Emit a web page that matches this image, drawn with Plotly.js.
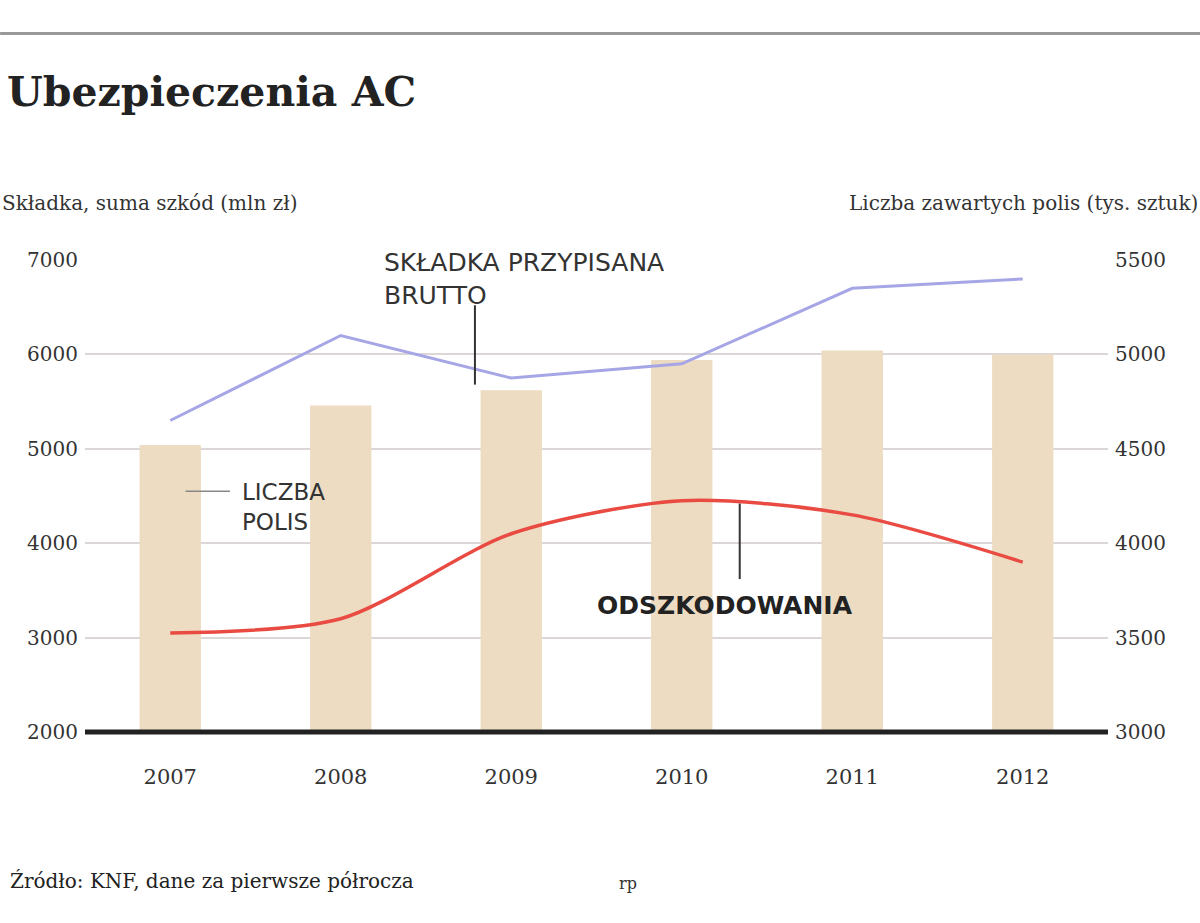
<!DOCTYPE html>
<html>
<head>
<meta charset="utf-8">
<script src="https://cdn.plot.ly/plotly-3.0.1.min.js"></script>
<style>
  html, body { margin: 0; padding: 0; background: #fff; }
  #chart { width: 1200px; height: 923px; }
</style>
</head>
<body>
<div id="chart"></div>
<script>
// Values (estimates)
var years = ['2007', '2008', '2009', '2010', '2011', '2012'];
var skladka = [5300, 6200, 5750, 5900, 6700, 6800];       // mln zł, left scale
var odszkodowania = [3050, 3200, 4100, 4450, 4300, 3800];  // mln zł, left scale
var liczbaPolis = [4520, 4730, 4810, 4970, 5020, 5000];    // tys. sztuk, right scale

var leftTicks = [2000, 3000, 4000, 5000, 6000, 7000];
var rightTicks = [3000, 3500, 4000, 4500, 5000, 5500];

var tickFont = { family: 'DejaVu Serif, serif', size: 20, color: '#333' };
var labelFont = { family: 'DejaVu Sans, sans-serif', size: 23, color: '#333' };

// Bars sit on 'y' (drawn on the right), lines on the overlaying 'y2' (drawn on the left),
// so the lines render above the bars.
var data = [
    {
        type: 'bar',
        x: years,
        y: liczbaPolis,
        width: 0.36,
        marker: { color: '#eddcc2' },
        hoverinfo: 'x+y'
    },
    {
        type: 'scatter',
        mode: 'lines',
        x: years,
        y: skladka,
        yaxis: 'y2',
        line: { color: '#a6a6e6', width: 3 },
        hoverinfo: 'x+y'
    },
    {
        type: 'scatter',
        mode: 'lines',
        x: years,
        y: odszkodowania,
        yaxis: 'y2',
        line: { color: '#e94b43', width: 3.5, shape: 'spline', smoothing: 0.8 },
        hoverinfo: 'x+y'
    }
];

var layout = {
    width: 1200,
    height: 923,
    paper_bgcolor: '#fff',
    plot_bgcolor: '#fff',
    showlegend: false,
    margin: { t: 260, r: 92, b: 191, l: 85 },
    xaxis: {
        type: 'category',
        range: [-0.5, 5.5],
        showgrid: false,
        showline: false,
        zeroline: false,
        ticks: '',
        tickfont: { family: 'DejaVu Serif, serif', size: 21, color: '#333' },
        ticklabelstandoff: 30
    },
    yaxis: {
        side: 'right',
        range: [3000, 5500],
        tickvals: rightTicks,
        ticktext: rightTicks.map(String),
        showgrid: true,
        gridcolor: '#dcd6d6',
        gridwidth: 2,
        zeroline: false,
        showline: false,
        ticks: '',
        tickfont: tickFont,
        ticklabelstandoff: 6
    },
    yaxis2: {
        overlaying: 'y',
        side: 'left',
        range: [2000, 7000],
        tickvals: leftTicks,
        ticktext: leftTicks.map(String),
        showgrid: false,
        zeroline: false,
        showline: false,
        ticks: '',
        tickfont: tickFont,
        ticklabelstandoff: 6
    },
    shapes: [
        // top rule
        { type: 'line', xref: 'paper', yref: 'paper', x0: -0.083, x1: 1.09, y0: 1.48, y1: 1.48,
          line: { color: '#999', width: 3 } },
        // baseline
        { type: 'line', xref: 'paper', yref: 'paper', x0: 0, x1: 1, y0: 0, y1: 0,
          line: { color: '#222', width: 5 } },
        // leader: skladka
        { type: 'line', xref: 'x', yref: 'y2', x0: 1.787, x1: 1.787, y0: 6520, y1: 5680,
          line: { color: '#333', width: 2 } },
        // leader: liczba polis
        { type: 'line', xref: 'x', yref: 'y2', x0: 0.09, x1: 0.35, y0: 4550, y1: 4550,
          line: { color: '#888', width: 1.5 } },
        // leader: odszkodowania
        { type: 'line', xref: 'x', yref: 'y2', x0: 3.34, x1: 3.34, y0: 4420, y1: 3620,
          line: { color: '#333', width: 2 } }
    ],
    annotations: [
        { text: '<b>Ubezpieczenia AC</b>', xref: 'paper', yref: 'paper', x: -0.078, y: 1.355,
          xanchor: 'left', yanchor: 'middle', showarrow: false,
          font: { family: 'DejaVu Serif, serif', size: 41, color: '#222' } },
        { text: 'Składka, suma szkód (mln zł)', xref: 'paper', yref: 'paper', x: -0.083, y: 1.12,
          xanchor: 'left', yanchor: 'middle', showarrow: false,
          font: { family: 'DejaVu Serif, serif', size: 20, color: '#333' } },
        { text: 'Liczba zawartych polis (tys. sztuk)', xref: 'paper', yref: 'paper', x: 1.09, y: 1.12,
          xanchor: 'right', yanchor: 'middle', showarrow: false,
          font: { family: 'DejaVu Serif, serif', size: 20, color: '#333' } },
        { text: 'SKŁADKA PRZYPISANA<br>BRUTTO', xref: 'x', yref: 'y2', x: 1.24, y: 6800,
          xanchor: 'left', yanchor: 'middle', showarrow: false, align: 'left',
          font: { family: 'DejaVu Sans, sans-serif', size: 25, color: '#333' } },
        { text: 'LICZBA<br>POLIS', xref: 'x', yref: 'y2', x: 0.41, y: 4380,
          xanchor: 'left', yanchor: 'middle', showarrow: false, align: 'left',
          font: labelFont },
        { text: '<b>ODSZKODOWANIA</b>', xref: 'x', yref: 'y2', x: 2.49, y: 3340,
          xanchor: 'left', yanchor: 'middle', showarrow: false,
          font: { family: 'DejaVu Sans, sans-serif', size: 25, color: '#222' } },
        { text: 'Źródło: KNF, dane za pierwsze półrocza', xref: 'paper', yref: 'paper', x: -0.075, y: -0.315,
          xanchor: 'left', yanchor: 'middle', showarrow: false,
          font: { family: 'DejaVu Serif, serif', size: 20, color: '#222' } },
        { text: 'rp', xref: 'paper', yref: 'paper', x: 0.52, y: -0.32,
          xanchor: 'left', yanchor: 'middle', showarrow: false,
          font: { family: 'DejaVu Serif, serif', size: 16, color: '#333' } }
    ]
};

Plotly.newPlot('chart', data, layout, { displayModeBar: false, staticPlot: true });
</script>
</body>
</html>
